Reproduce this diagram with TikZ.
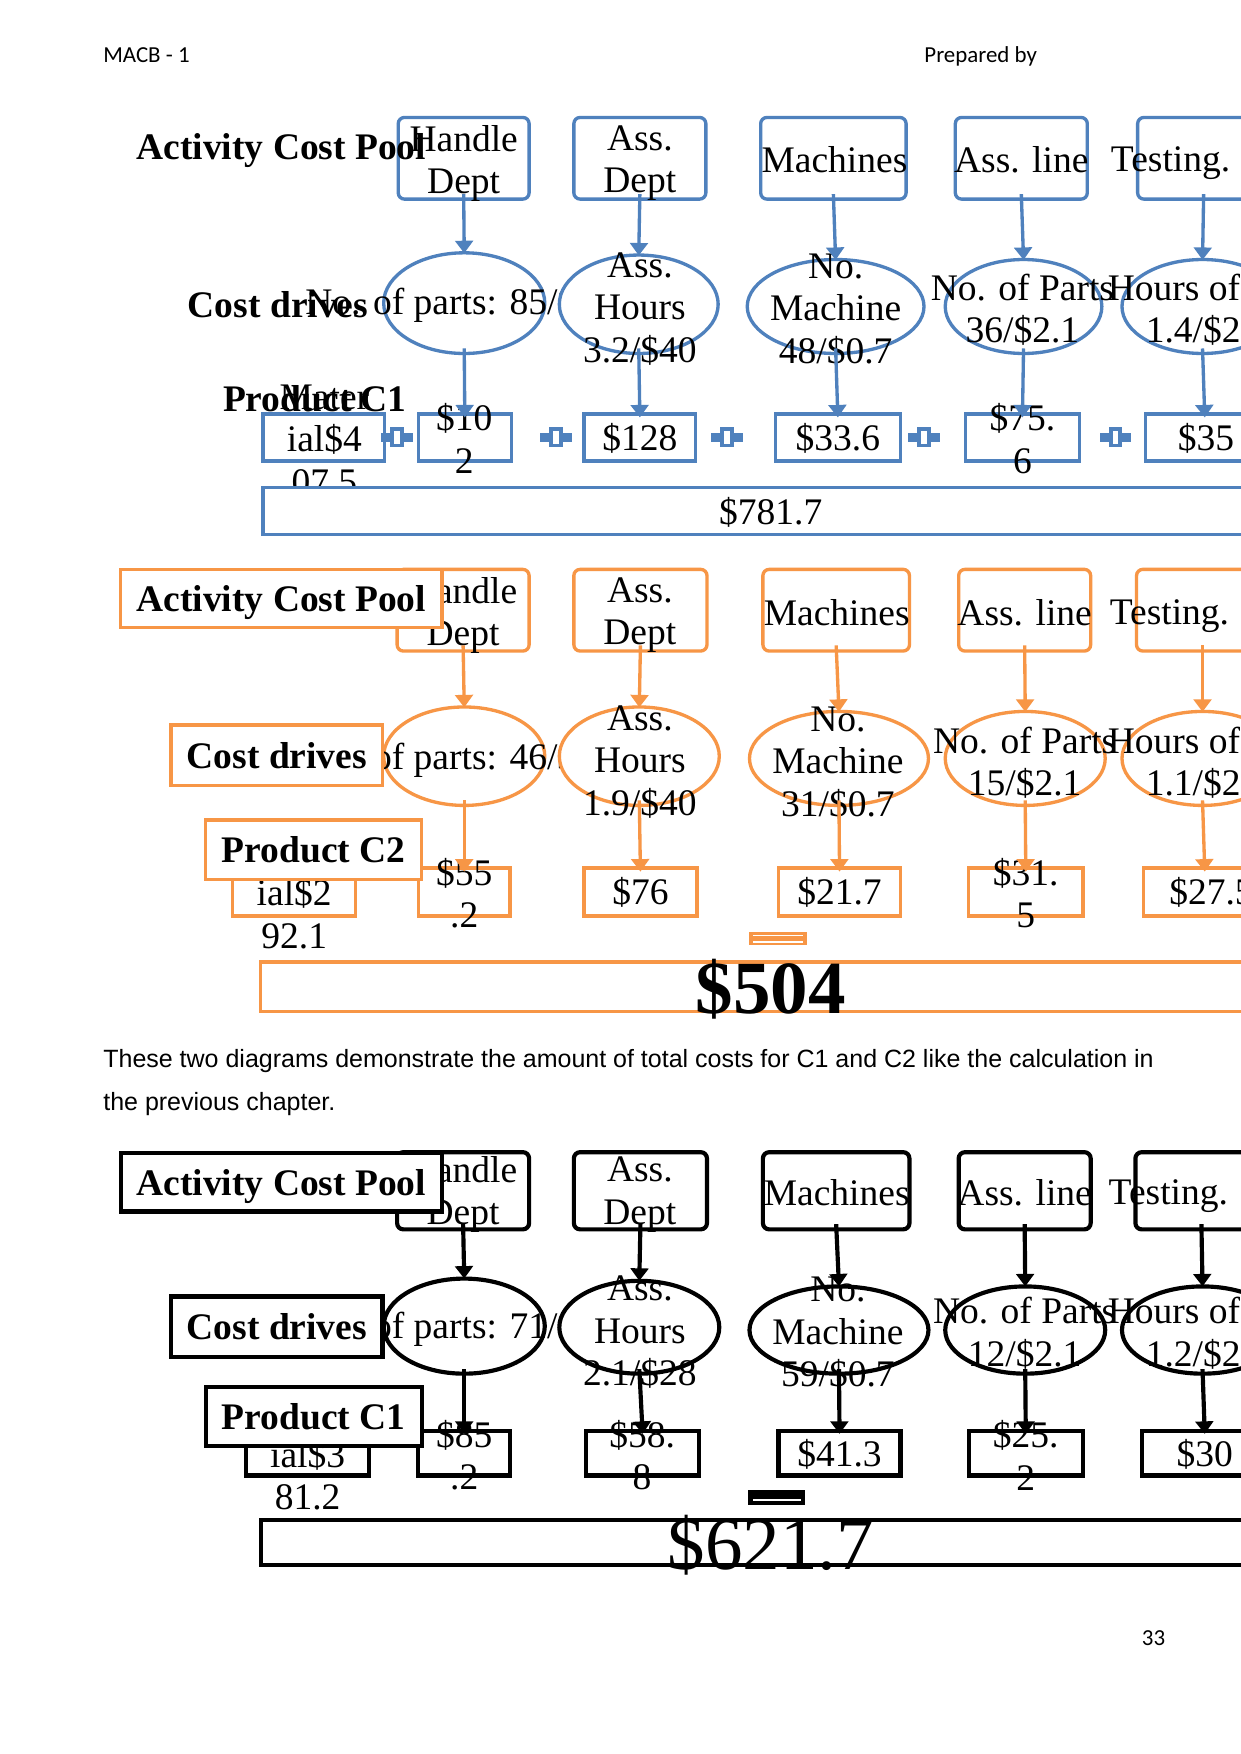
\documentclass[tikz,border=0pt]{standalone}
\usepackage{fontspec}
\setmainfont{Liberation Serif}
\newfontfamily\arialfnt{Liberation Sans}
\newfontfamily\calibfnt{Carlito}
\usetikzlibrary{shapes.geometric,arrows.meta}
\definecolor{cblue}{HTML}{4F81BD}
\definecolor{corange}{HTML}{F79646}
\colorlet{dc}{cblue}
\def\dlw{1.6pt}
\tikzset{
  bx/.style 2 args={minimum width=#1*0.537pt, minimum height=#2*0.537pt},
  txt/.style={font=\fontsize{18}{20.4}\selectfont, align=center, inner sep=0pt},
  bigtxt/.style={font=\fontsize{36}{40}\selectfont, inner sep=0pt},
  lbl/.style={font=\fontsize{18}{20.4}\selectfont\bfseries, inner sep=0pt},
  topbox/.style={rectangle, draw=dc, fill=white, rounded corners=3pt, line width=\dlw, inner sep=0pt},
  ell/.style={ellipse, draw=dc, fill=white, line width=\dlw, inner sep=0pt},
  botbox/.style={rectangle, draw=dc, fill=white, line width=\dlw, inner sep=0pt},
  lblbox/.style={rectangle, draw=dc, fill=white, line width=\dlw, inner sep=0pt, text depth=0pt, font=\fontsize{18}{20.4}\selectfont\bfseries},
  arr/.style={draw=dc, line width=\dlw, -{Triangle[width=8.5pt,length=6pt]}},
  hdr/.style={font=\calibfnt\fontsize{11}{13}\selectfont, inner sep=0pt},
  bodytxt/.style={font=\arialfnt\fontsize{12}{14}\selectfont, inner sep=0pt},
}
\newcommand\pico[2]{%
  \fill[dc] (#1-14,#2-3.75) rectangle (#1+14,#2+3.75);
  \draw[dc, line width=1.9pt, fill=white] (#1-4.25,#2-7.25) rectangle (#1+4.25,#2+7.25);}
\begin{document}
\begin{tikzpicture}[x=0.537pt,y=-0.537pt]
\fill[white] (0,0) rectangle (1109,1568);
\useasboundingbox (0,0) rectangle (1109,1568);

% header, footer, body
\node[hdr, anchor=base west] (hl) at (92,56) {MACB - 1};
\node[hdr, anchor=base west] (hr) at (826,56) {Prepared by};
\node[hdr, anchor=base east] (pg) at (1042,1471) {33};
\node[bodytxt, anchor=base west] (bt1) at (92,954) {These two diagrams demonstrate the amount of total costs for C1 and C2 like the calculation in};
\node[bodytxt, anchor=base west] (bt2) at (92,993) {the previous chapter.};

%================ Diagram 1 (blue) =================
\colorlet{dc}{cblue}\def\dlw{1.6pt}
\node[topbox, bx={117}{73}] (a1) at (414.5,141.5) {};
\node[txt] (a1t) at (414.5,146) {Handle\\Dept};
\node[topbox, bx={118}{73}] (a2) at (572,141.5) {};
\node[txt] (a2t) at (572,146) {Ass.\\Dept};
\node[topbox, bx={130}{73}] (a3) at (745,141.5) {};
\node[txt] (a3t) at (746,143) {Machines};
\node[topbox, bx={118}{73}] (a4) at (913,141.5) {};
\node[txt] (a4t) at (913,143) {Ass. line};
\node[topbox, bx={118}{73}] (a5) at (1076,141.5) {};
\node[txt] (a5t) at (1076,146) {\makebox[89pt][l]{Testing.}};

\node[lbl] (l1) at (251.5,135) {Activity Cost Pool};
\node[lbl] (l2) at (248.5,272) {Cost drives};

\node[ell, bx={144}{90}] (b1) at (415,271) {};
\node[txt] (b1t) at (415,273) {No. of parts: 85/\$1.2};
\node[ell, bx={142}{88}] (b2) at (571,272) {};
\node[txt] (b2t) at (572,276) {Ass.\\Hours\\3.2/\$40};
\node[ell, bx={158}{84}] (b3) at (747,274) {};
\node[txt] (b3t) at (747,277) {No.\\Machine\\48/\$0.7};
\node[ell, bx={140}{84}] (b4) at (915,274) {};
\node[txt] (b4t) at (914,277) {No. of Parts\\36/\$2.1};
\node[ell, bx={144}{84}] (b5) at (1075,274) {};
\node[txt] (b5t) at (1075,277) {\makebox[91pt][l]{Hours of}\\1.4/\$25};

\node[botbox, bx={109}{42}] (c1) at (289.5,391) {};
\node[txt] (c1t) at (290,393) {Mater\\ial\$4\\07.5};
\pico{355}{391}
\node[botbox, bx={83}{42}] (c2) at (415.5,391) {};
\node[txt] (c2t) at (415,392) {\$10\\2};
\pico{497}{391}
\node[botbox, bx={100}{42}] (c3) at (572,391) {};
\node[txt] (c3t) at (572,392) {\$128};
\pico{650}{391}
\node[botbox, bx={112}{42}] (c4) at (749,391) {};
\node[txt] (c4t) at (749,392) {\$33.6};
\pico{826}{391}
\node[botbox, bx={102}{42}] (c5) at (914,391) {};
\node[txt] (c5t) at (914,392) {\$75.\\6};
\pico{997}{391}
\node[botbox, bx={106}{42}] (c6) at (1077,391) {};
\node[txt] (c6t) at (1078,392) {\$35};
\node[lbl] (l3) at (281.5,356) {Product C1};

\node[botbox, bx={908}{42}] (d1) at (689,457) {};
\node[txt] (d1t) at (689,458) {\$781.7};

\foreach \i/\j in {1/1,2/2,3/3,4/4,5/5}{\draw[arr] ([yshift=3.2pt]a\i.south) -- ([yshift=-1pt]b\j.north);}
\foreach \i/\j in {1/2,2/3,3/4,4/5,5/6}{\draw[arr] ([yshift=3.2pt]b\i.south) -- ([yshift=-2.5pt]c\j.north);}

%================ Diagram 2 (orange) =================
\colorlet{dc}{corange}\def\dlw{1.6pt}
\node[topbox, bx={118}{73}] (e1) at (414,545.5) {};
\node[txt] (e1t) at (414,550) {Handle\\Dept};
\node[topbox, bx={119}{73}] (e2) at (572.5,545.5) {};
\node[txt] (e2t) at (572,550) {Ass.\\Dept};
\node[topbox, bx={131}{73}] (e3) at (747.5,545.5) {};
\node[txt] (e3t) at (748,548) {Machines};
\node[topbox, bx={118}{73}] (e4) at (916,545.5) {};
\node[txt] (e4t) at (916,548) {Ass. line};
\node[topbox, bx={118}{73}] (e5) at (1075,545.5) {};
\node[txt] (e5t) at (1075,551) {\makebox[89pt][l]{Testing.}};

\node[ell, bx={144}{88}] (f1) at (415,676) {};
\node[txt] (f1t) at (415,679) {No. of parts: 46/\$1.2};
\node[ell, bx={143}{88}] (f2) at (571.5,676) {};
\node[txt] (f2t) at (572,681) {Ass.\\Hours\\1.9/\$40};
\node[ell, bx={160}{84}] (f3) at (750,678) {};
\node[txt] (f3t) at (749,682) {No.\\Machine\\31/\$0.7};
\node[ell, bx={143}{84}] (f4) at (916.5,678) {};
\node[txt] (f4t) at (916,682) {No. of Parts\\15/\$2.1};
\node[ell, bx={144}{84}] (f5) at (1075,678) {};
\node[txt] (f5t) at (1075,682) {\makebox[91pt][l]{Hours of}\\1.1/\$25};

\node[botbox, bx={110}{43}] (g1) at (263,797.5) {};
\node[txt] (g1t) at (263,799) {Mater\\ial\$2\\92.1};
\node[botbox, bx={82}{43}] (g2) at (415,797.5) {};
\node[txt] (g2t) at (415,798.5) {\$55\\.2};
\node[botbox, bx={101}{43}] (g3) at (572.5,797.5) {};
\node[txt] (g3t) at (572.5,798) {\$76};
\node[botbox, bx={109}{43}] (g4) at (750.5,797.5) {};
\node[txt] (g4t) at (750.5,798) {\$21.7};
\node[botbox, bx={102}{43}] (g5) at (917,797.5) {};
\node[txt] (g5t) at (917,798.5) {\$31.\\5};
\node[botbox, bx={110}{43}] (g6) at (1077,797.5) {};
\node[txt] (g6t) at (1083,798) {\$27.5};

\fill[dc] (670,833) rectangle (721,845);
\draw[white, line width=0.6pt] (673,836) -- (718,836) (673,842) -- (718,842);

\node[botbox, bx={912}{44}] (h1) at (689,882) {};
\node[bigtxt, font=\fontsize{36}{40}\selectfont\bfseries] (h1t) at (689,884) {\$504};

\node[lblbox, bx={287}{52}] (l4) at (251.5,535) {Activity Cost Pool};
\node[lblbox, bx={189}{54}] (l5) at (247.5,675) {Cost drives};
\node[lblbox, bx={193}{53}] (l6) at (280.5,759.5) {Product C2};

\foreach \i/\j in {1/1,2/2,3/3,4/4,5/5}{\draw[arr] ([yshift=3.5pt]e\i.south) -- ([yshift=-1pt]f\j.north);}
\foreach \i/\j in {1/2,2/3,3/4,4/5,5/6}{\draw[arr] ([yshift=3.2pt]f\i.south) -- ([yshift=-2.5pt]g\j.north);}

%================ Diagram 3 (black) =================
\colorlet{dc}{black}\def\dlw{2pt}
\node[topbox, bx={118}{69}] (p1) at (414,1064.5) {};
\node[txt] (p1t) at (414,1068) {Handle\\Dept};
\node[topbox, bx={119}{69}] (p2) at (572.5,1064.5) {};
\node[txt] (p2t) at (572,1068) {Ass.\\Dept};
\node[topbox, bx={131}{69}] (p3) at (747.5,1064.5) {};
\node[txt] (p3t) at (748,1066) {Machines};
\node[topbox, bx={118}{69}] (p4) at (916,1064.5) {};
\node[txt] (p4t) at (916,1066) {Ass. line};
\node[topbox, bx={118}{69}] (p5) at (1074,1064.5) {};
\node[txt] (p5t) at (1074,1069) {\makebox[89pt][l]{Testing.}};

\node[ell, bx={144}{85}] (q1) at (415,1185.5) {};
\node[txt] (q1t) at (415,1188) {No. of parts: 71/\$1.2};
\node[ell, bx={143}{83}] (q2) at (571.5,1186.5) {};
\node[txt] (q2t) at (572,1191) {Ass.\\Hours\\2.1/\$28};
\node[ell, bx={160}{78}] (q3) at (750,1189) {};
\node[txt] (q3t) at (749,1192) {No.\\Machine\\59/\$0.7};
\node[ell, bx={143}{78}] (q4) at (916.5,1189) {};
\node[txt] (q4t) at (916,1192) {No. of Parts\\12/\$2.1};
\node[ell, bx={144}{78}] (q5) at (1075,1189) {};
\node[txt] (q5t) at (1075,1192) {\makebox[91pt][l]{Hours of}\\1.2/\$25};

\node[botbox, bx={110}{40}] (r1) at (275,1299) {};
\node[txt] (r1t) at (275,1301) {Mater\\ial\$3\\81.2};
\node[botbox, bx={82}{40}] (r2) at (415,1299) {};
\node[txt] (r2t) at (415,1301) {\$85\\.2};
\node[botbox, bx={101}{40}] (r3) at (574.5,1299) {};
\node[txt] (r3t) at (574,1301) {\$58.\\8};
\node[botbox, bx={109}{40}] (r4) at (750.5,1299) {};
\node[txt] (r4t) at (750.5,1300) {\$41.3};
\node[botbox, bx={102}{40}] (r5) at (917,1299) {};
\node[txt] (r5t) at (917,1301) {\$25.\\2};
\node[botbox, bx={112}{40}] (r6) at (1077,1299) {};
\node[txt] (r6t) at (1077,1300) {\$30};

\fill[dc] (669,1332) rectangle (720,1345);
\draw[white, line width=0.6pt] (673,1341) -- (716,1341);

\node[botbox, bx={912}{40}] (s1) at (689,1379) {};
\node[bigtxt] (s1t) at (689,1381) {\$621.7};

\node[lblbox, bx={287}{52}] (l7) at (251.5,1057) {Activity Cost Pool};
\node[lblbox, bx={189}{54}] (l8) at (247.5,1186) {Cost drives};
\node[lblbox, bx={193}{53}] (l9) at (280.5,1266.5) {Product C1};

\foreach \i/\j in {1/1,2/2,3/3,4/4,5/5}{\draw[arr] ([yshift=3.5pt]p\i.south) -- ([yshift=-1pt]q\j.north);}
\foreach \i/\j in {1/2,2/3,3/4,4/5,5/6}{\draw[arr] ([yshift=3.2pt]q\i.south) -- ([yshift=-2.5pt]r\j.north);}
\end{tikzpicture}
\end{document}
